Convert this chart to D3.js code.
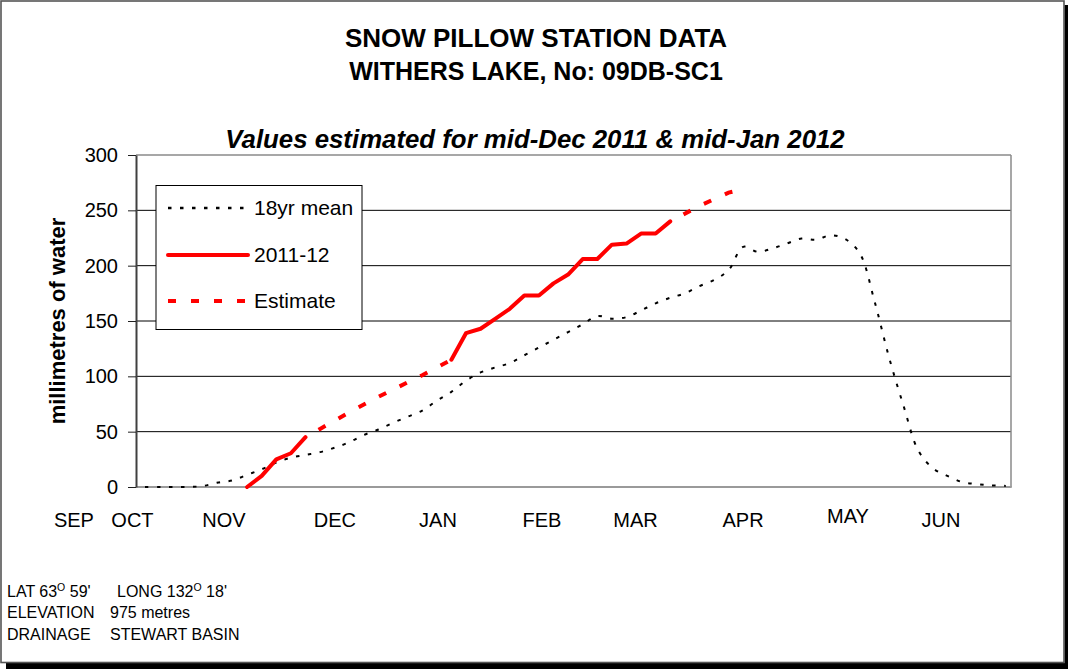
<!DOCTYPE html>
<html>
<head>
<meta charset="utf-8">
<script src="https://cdn.jsdelivr.net/npm/d3@7"></script>
<style>
  html, body { margin: 0; padding: 0; background: #fff; }
  text { font-family: "Liberation Sans", Arial, Helvetica, sans-serif; fill: #000; }
</style>
</head>
<body>
<script>
// ---------------- DATA ----------------
// 60 semi-regular observation slots from early October to end of June
const meanSeries = [
  0, 0, 0, 0, 1, 4, 6, 11, 16, 22,
  26.5, 29, 31.5, 35.5, 40.5, 47, 52, 58, 63.5, 69,
  78, 86, 96, 103.5, 108, 112, 119, 126, 133, 140,
  147, 154.5, 152, 153.5, 159.5, 166, 171, 175, 181.5, 187,
  196, 217, 212.5, 215.5, 220, 224.5, 223.5, 227.5, 224, 211,
  168, 117, 73, 33, 17, 10, 4.5, 2.7, 1.5, 1
];
const series2011 = [
  null, null, null, null, null, null, null, 0, 10, 25,
  30.5, 45, null, null, null, null, null, null, null, null,
  null, 115, 139, 143, 152, 161, 173, 173, 184, 192,
  206, 206, 219, 220, 229, 229, 240, null, null, null,
  null, null, null, null, null, null, null, null, null, null,
  null, null, null, null, null, null, null, null, null, null
];
const estimateSeries = [
  null, null, null, null, null, null, null, null, null, null,
  null, 45, 52.5, 60, 67.5, 74.5, 81.5, 88, 94.5, 101,
  108, 115, null, null, null, null, null, null, null, null,
  null, null, null, null, null, null, 240, 247, 254, 260,
  266, 269, null, null, null, null, null, null, null, null,
  null, null, null, null, null, null, null, null, null, null
];
const yTicks = [0, 50, 100, 150, 200, 250, 300];
const monthLabels = ["SEP", "OCT", "NOV", "DEC", "JAN", "FEB", "MAR", "APR", "MAY", "JUN"];
const legendLabels = ["18yr mean", "2011-12", "Estimate"];
const titleLines = ["SNOW PILLOW STATION DATA", "WITHERS LAKE, No: 09DB-SC1"];
const subtitle = "Values estimated for mid-Dec 2011 & mid-Jan 2012";
const yTitle = "millimetres of water";

// ---------------- LAYOUT ----------------
const W = 1068, H = 669;
const plot = { left: 136, right: 1011, top: 155, bottom: 487 };
// label centres expressed in slot units (manually placed text boxes in original)
const monthAt = [-4.87, -0.86, 5.41, 13.02, 20.08, 27.21, 33.62, 40.99, 48.18, 54.56];
const monthDy = [0, 0, 0, 0, 0, 0, 0, 0, -4, 0];

const svg = d3.select("body").append("svg")
  .attr("width", W).attr("height", H);

// outer frame with drop shadow
svg.append("rect").attr("x", 6).attr("y", 663).attr("width", W - 6).attr("height", 6).attr("fill", "#000");
svg.append("rect").attr("x", 1064.5).attr("y", 5).attr("width", 3.5).attr("height", H - 5).attr("fill", "#000");
svg.append("rect").attr("x", 1).attr("y", 1).attr("width", 1063).attr("height", 661.5)
  .attr("fill", "#fff").attr("stroke", "#555").attr("stroke-width", 1.6);

// scales
const x = d3.scaleLinear().domain([0, 59]).range([145, 1005.8]);
const y = d3.scaleLinear().domain([0, 300]).range([plot.bottom, plot.top]);

// gridlines
svg.append("g").selectAll("line")
  .data(yTicks.filter(t => t > 0 && t < 300))
  .join("line")
  .attr("x1", plot.left).attr("x2", plot.right)
  .attr("y1", d => y(d)).attr("y2", d => y(d))
  .attr("stroke", "#000").attr("stroke-width", 1);

// plot border (top, right, bottom)
svg.append("line").attr("x1", plot.left).attr("x2", plot.right).attr("y1", plot.top).attr("y2", plot.top)
  .attr("stroke", "#8a8a8a").attr("stroke-width", 1.5);
svg.append("line").attr("x1", plot.right).attr("x2", plot.right).attr("y1", plot.top).attr("y2", plot.bottom)
  .attr("stroke", "#8a8a8a").attr("stroke-width", 1.5);
svg.append("line").attr("x1", plot.left).attr("x2", plot.right + 0.75).attr("y1", plot.bottom).attr("y2", plot.bottom)
  .attr("stroke", "#9a9a9a").attr("stroke-width", 2);

// y axis
const yAxis = d3.axisLeft(y).tickValues(yTicks).tickSize(8).tickSizeOuter(0).tickPadding(10);
const gy = svg.append("g").attr("transform", `translate(${plot.left},0)`).call(yAxis);
gy.select(".domain").attr("stroke", "#404040").attr("stroke-width", 2);
gy.selectAll(".tick line").attr("stroke", "#202020").attr("stroke-width", 1);
gy.selectAll(".tick text")
  .style("font-family", '"Liberation Sans", Arial, sans-serif')
  .style("font-size", "20px").attr("fill", "#000");

// y title
svg.append("text")
  .attr("transform", `translate(65,${(plot.top + plot.bottom) / 2}) rotate(-90)`)
  .attr("text-anchor", "middle")
  .style("font-size", "22px").style("font-weight", "bold")
  .text(yTitle);

// month labels
svg.append("g").selectAll("text")
  .data(monthLabels)
  .join("text")
  .attr("x", (d, i) => x(monthAt[i]))
  .attr("y", (d, i) => 527 + monthDy[i])
  .attr("text-anchor", "middle")
  .style("font-size", "20px")
  .text(d => d);

// titles
svg.append("text").attr("x", 536).attr("y", 47).attr("text-anchor", "middle")
  .style("font-size", "26px").style("font-weight", "bold").text(titleLines[0]);
svg.append("text").attr("x", 536).attr("y", 80).attr("text-anchor", "middle")
  .style("font-size", "25px").style("font-weight", "bold").text(titleLines[1]);
svg.append("text").attr("x", 535).attr("y", 148).attr("text-anchor", "middle")
  .style("font-size", "25.8px").style("font-weight", "bold").style("font-style", "italic").text(subtitle);

// line generators
const line = d3.line().defined(d => d != null).x((d, i) => x(i)).y(d => y(d));
const smooth = d3.line().x((d, i) => x(i)).y(d => y(d)).curve(d3.curveCatmullRom.alpha(0.5));

// 18yr mean (dotted, smoothed)
svg.append("path").datum(meanSeries)
  .attr("d", smooth)
  .attr("fill", "none").attr("stroke", "#000").attr("stroke-width", 2)
  .attr("stroke-dasharray", "3.5,8.5");

// estimate runs (each drawn separately so the dash pattern starts per run)
function runs(arr) {
  const out = []; let cur = null;
  arr.forEach((v, i) => {
    if (v != null) { if (!cur) { cur = []; out.push(cur); } cur.push([i, v]); }
    else cur = null;
  });
  return out;
}
const runLine = d3.line().x(d => x(d[0])).y(d => y(d[1]));
svg.append("g").selectAll("path")
  .data(runs(estimateSeries))
  .join("path")
  .attr("d", runLine)
  .attr("fill", "none").attr("stroke", "#ff0000").attr("stroke-width", 4)
  .attr("stroke-dasharray", "8,15").attr("stroke-dashoffset", 8);

// 2011-12 observed (solid)
svg.append("path").datum(series2011)
  .attr("d", line)
  .attr("fill", "none").attr("stroke", "#ff0000").attr("stroke-width", 4)
  .attr("stroke-linejoin", "round").attr("stroke-linecap", "round");

// legend
const lg = svg.append("g");
lg.append("rect").attr("x", 156).attr("y", 185.5).attr("width", 206).attr("height", 144)
  .attr("fill", "#fff").attr("stroke", "#000").attr("stroke-width", 1);
const legendY = [208, 255, 301];
const legendStyles = [
  { stroke: "#000", width: 2.4, dash: "3.5,8.5", cap: "butt" },
  { stroke: "#ff0000", width: 4, dash: null, cap: "round" },
  { stroke: "#ff0000", width: 4, dash: "8,15", cap: "butt" }
];
legendLabels.forEach((lab, i) => {
  const s = legendStyles[i];
  const ln = lg.append("line").attr("x1", 168).attr("x2", 248)
    .attr("y1", legendY[i]).attr("y2", legendY[i])
    .attr("stroke", s.stroke).attr("stroke-width", s.width).attr("stroke-linecap", s.cap);
  if (s.dash) ln.attr("stroke-dasharray", s.dash);
  lg.append("text").attr("x", 254).attr("y", legendY[i] + 7)
    .style("font-size", "21px").text(lab);
});

// footnotes
const fn = svg.append("g").style("font-size", "16px");
const lat = fn.append("text").attr("x", 7).attr("y", 597);
lat.append("tspan").text("LAT 63");
lat.append("tspan").attr("dy", -6).style("font-size", "10.5px").text("O");
lat.append("tspan").attr("dy", 6).text(" 59'");
const lon = fn.append("text").attr("x", 117).attr("y", 597);
lon.append("tspan").text("LONG 132");
lon.append("tspan").attr("dy", -6).style("font-size", "10.5px").text("O");
lon.append("tspan").attr("dy", 6).text(" 18'");
fn.append("text").attr("x", 7).attr("y", 618).text("ELEVATION");
fn.append("text").attr("x", 110).attr("y", 618).text("975 metres");
fn.append("text").attr("x", 7).attr("y", 640).text("DRAINAGE");
fn.append("text").attr("x", 110).attr("y", 640).text("STEWART BASIN");
</script>
</body>
</html>
